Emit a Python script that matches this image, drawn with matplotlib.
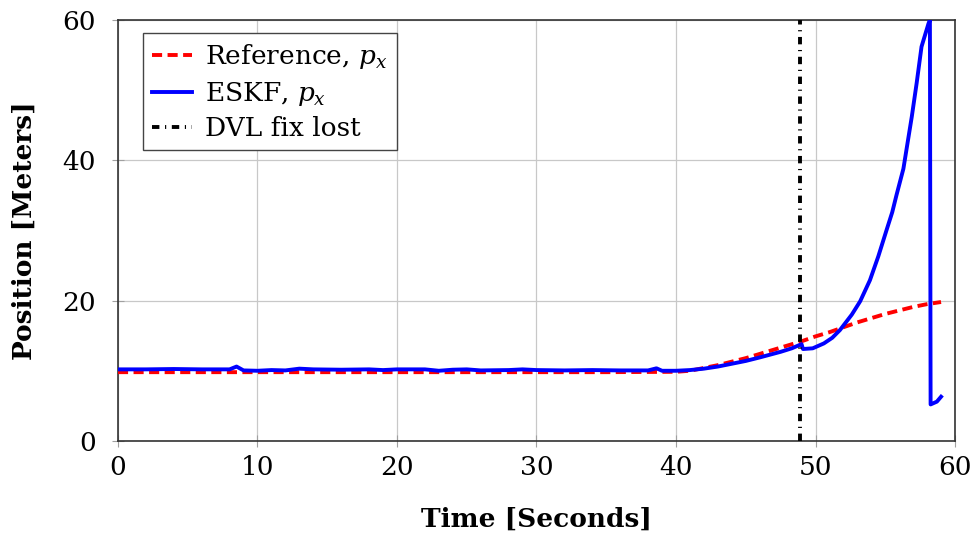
import matplotlib
matplotlib.use("Agg")
import matplotlib.pyplot as plt

plt.rcParams["font.family"] = ["DejaVu Serif"]
plt.rcParams["mathtext.fontset"] = "dejavuserif"

# Reference trajectory, x position
ref_t = [0, 5, 10, 15, 20, 25, 30, 35, 40, 41, 42, 43, 44, 45, 46, 47, 48, 49,
         50, 51, 52, 53, 54, 55, 56, 57, 58, 59]
ref_px = [9.8, 9.8, 9.8, 9.8, 9.8, 9.8, 9.8, 9.8, 9.85, 10.0, 10.4, 10.8, 11.3,
          11.8, 12.4, 13.0, 13.6, 14.2, 14.9, 15.5, 16.2, 16.9, 17.5, 18.1,
          18.6, 19.1, 19.5, 19.8]

# ESKF estimate, x position
eskf_t = [0, 2, 4, 6, 8, 8.5, 9.0, 10, 11, 12, 13, 14, 16, 18, 19, 20, 22, 23,
          24, 25, 26, 28, 29, 30, 32, 34, 36, 38, 38.6, 39, 40, 41, 42, 43, 44,
          45, 46, 47.5, 48.3, 49.0, 49.1, 49.8, 50.6, 51.2, 51.75, 52.6, 53.2,
          53.9, 54.5, 55.1, 55.5, 55.8, 56.3, 56.9, 57.25, 57.6, 58.1, 58.2,
          58.25, 58.7, 59.0]
eskf_px = [10.2, 10.2, 10.25, 10.2, 10.2, 10.6, 10.05, 10.0, 10.1, 10.05, 10.3,
           10.2, 10.15, 10.2, 10.1, 10.2, 10.2, 10.0, 10.15, 10.2, 10.05, 10.1,
           10.2, 10.1, 10.05, 10.1, 10.05, 10.05, 10.35, 10.0, 10.0, 10.1, 10.3,
           10.6, 11.0, 11.4, 11.9, 12.7, 13.2, 13.8, 13.1, 13.2, 13.9, 14.7,
           15.8, 18.0, 19.9, 22.9, 26.3, 30.1, 32.6, 35.0, 38.8, 46.2, 51.0,
           56.2, 59.5, 60.0, 5.2, 5.6, 6.3]

dvl_lost_t = 48.9

x_ticks = [0, 10, 20, 30, 40, 50, 60]
y_ticks = [0, 20, 40, 60]

fig = plt.figure(figsize=(9.75, 5.41), dpi=100)
ax = fig.add_axes([0.121, 0.185, 0.8585, 0.778])

ax.plot(ref_t, ref_px, color="red", lw=2.8, linestyle=(0, (2.6, 1.4)),
        label=r"Reference, $p_x$", zorder=3)
ax.plot(eskf_t, eskf_px, color="blue", lw=2.8, label=r"ESKF, $p_x$", zorder=4)
ax.axvline(dvl_lost_t, color="black", lw=2.8,
           linestyle=(0, (1.9, 1.45, 0.3, 1.45)), label="DVL fix lost", zorder=5)

ax.set_xlim(0, 60)
ax.set_ylim(0, 60)
ax.set_xticks(x_ticks)
ax.set_yticks(y_ticks)
ax.grid(True, color="#c8c8c8", lw=0.9)
ax.set_axisbelow(True)
ax.tick_params(axis="both", direction="inout", length=8, color="#a0a0a0",
               labelsize=19)
ax.tick_params(axis="x", pad=6)
ax.tick_params(axis="y", pad=12)
for s in ax.spines.values():
    s.set_color("#333333")
    s.set_linewidth(1.2)

ax.set_xlabel("Time [Seconds]", fontsize=19, fontweight="bold", labelpad=19)
ax.set_ylabel("Position [Meters]", fontsize=19, fontweight="bold", labelpad=18)

leg = ax.legend(loc="upper left", bbox_to_anchor=(0.030, 0.969),
                borderaxespad=0, fontsize=19, handlelength=1.5,
                handletextpad=0.5, borderpad=0.35, labelspacing=0.32,
                fancybox=False, framealpha=1, edgecolor="#444444")
leg.get_frame().set_linewidth(1.0)

fig.savefig("out.png", dpi=100)
